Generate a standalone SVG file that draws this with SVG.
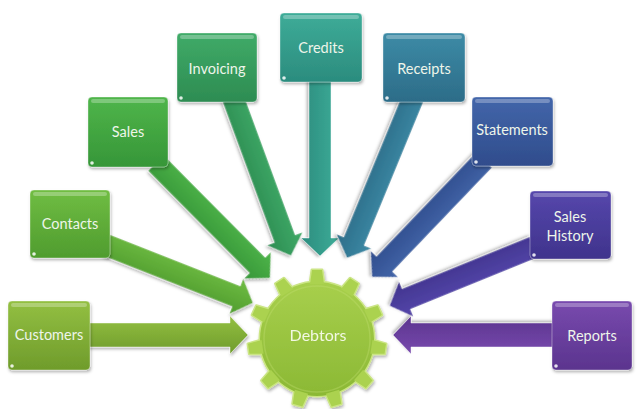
<svg xmlns="http://www.w3.org/2000/svg" xmlns:xlink="http://www.w3.org/1999/xlink" width="640" height="409" viewBox="0 0 640 409">
<defs>
<linearGradient id="gCust" x1="0" y1="0" x2="0" y2="1"><stop offset="0" stop-color="#93bf42"/><stop offset="1" stop-color="#6f9c2b"/></linearGradient>
<linearGradient id="gCont" x1="0" y1="0" x2="0" y2="1"><stop offset="0" stop-color="#70bd43"/><stop offset="1" stop-color="#4f9c2e"/></linearGradient>
<linearGradient id="gSale" x1="0" y1="0" x2="0" y2="1"><stop offset="0" stop-color="#4fb54a"/><stop offset="1" stop-color="#369638"/></linearGradient>
<linearGradient id="gInv" x1="0" y1="0" x2="0" y2="1"><stop offset="0" stop-color="#40ab68"/><stop offset="1" stop-color="#2d8c52"/></linearGradient>
<linearGradient id="gCred" x1="0" y1="0" x2="0" y2="1"><stop offset="0" stop-color="#3eac98"/><stop offset="1" stop-color="#2b8c7e"/></linearGradient>
<linearGradient id="gRec" x1="0" y1="0" x2="0" y2="1"><stop offset="0" stop-color="#3d8ba6"/><stop offset="1" stop-color="#2c6c88"/></linearGradient>
<linearGradient id="gStat" x1="0" y1="0" x2="0" y2="1"><stop offset="0" stop-color="#4366aa"/><stop offset="1" stop-color="#2f4c8c"/></linearGradient>
<linearGradient id="gHist" x1="0" y1="0" x2="0" y2="1"><stop offset="0" stop-color="#5647ac"/><stop offset="1" stop-color="#3f338c"/></linearGradient>
<linearGradient id="gRep" x1="0" y1="0" x2="0" y2="1"><stop offset="0" stop-color="#784aae"/><stop offset="1" stop-color="#5b348e"/></linearGradient>
<linearGradient id="gGear" gradientUnits="userSpaceOnUse" x1="0" y1="268" x2="0" y2="409"><stop offset="0" stop-color="#abd24f"/><stop offset="1" stop-color="#88b632"/></linearGradient>
<filter id="sh" x="-20%" y="-20%" width="140%" height="140%"><feDropShadow dx="1" dy="2" stdDeviation="1.5" flood-color="#000" flood-opacity="0.3"/></filter>
<polygon id="tooth" points="-7,-55 -5,-69 5,-69 7,-55"/>
</defs>
<style>
.box{stroke:#ffffff;stroke-opacity:0.35;stroke-width:1;filter:url(#sh)}
.hl{fill:#ffffff;fill-opacity:0.28}
.dot{fill:#ffffff;fill-opacity:0.85}
.arr{stroke:#ffffff;stroke-opacity:0.45;stroke-width:1;filter:url(#sh)}
.lbl{font-family:Lato,"Liberation Sans",sans-serif;font-size:14.5px;fill:#eef5ea;text-anchor:middle}
</style>

<g id="connectors">
<polygon class="arr" fill="url(#gCust)" transform="translate(86,335) rotate(0)" points="0,-12 144,-12 144,-19 162,0 144,19 144,12 0,12"/>
<polygon class="arr" fill="url(#gCont)" transform="translate(106,245) rotate(21.5)" points="0,-11 140,-11 140,-19 158,0 140,19 140,11 0,11"/>
<polygon class="arr" fill="url(#gSale)" transform="translate(156,163) rotate(45.25)" points="0,-11 144,-11 144,-19 162,0 144,19 144,11 0,11"/>
<polygon class="arr" fill="url(#gInv)" transform="translate(233,98) rotate(69.8)" points="0,-11 150,-11 150,-19 168,0 150,19 150,11 0,11"/>
<polygon class="arr" fill="url(#gCred)" transform="translate(320,78) rotate(90)" points="0,-11 160,-11 160,-19 178,0 160,19 160,11 0,11"/>
<polygon class="arr" fill="url(#gRec)" transform="translate(413,98) rotate(112.4)" points="0,-11 155,-11 155,-19 173,0 155,19 155,11 0,11"/>
<polygon class="arr" fill="url(#gStat)" transform="translate(484,160) rotate(133.75)" points="0,-11 144,-11 144,-19 162,0 144,19 144,11 0,11"/>
<polygon class="arr" fill="url(#gHist)" transform="translate(534,247) rotate(157.85)" points="0,-11 138,-11 138,-19 156,0 138,19 138,11 0,11"/>
<polygon class="arr" fill="url(#gRep)" transform="translate(556,335) rotate(180)" points="0,-12 145,-12 145,-19 163,0 145,19 145,12 0,12"/>
</g>

<g id="customers"><rect class="box" x="8" y="301" width="82" height="69" rx="4" fill="url(#gCust)"/><rect class="hl" x="11" y="303" width="76" height="4" rx="2"/><circle class="dot" cx="12" cy="366" r="1.8"/><text class="lbl" x="49" y="340">Customers</text></g>
<g id="contacts"><rect class="box" x="30" y="190" width="80" height="68" rx="4" fill="url(#gCont)"/><rect class="hl" x="33" y="192" width="74" height="4" rx="2"/><circle class="dot" cx="34" cy="254" r="1.8"/><text class="lbl" x="70" y="229">Contacts</text></g>
<g id="sales"><rect class="box" x="88" y="97" width="80" height="70" rx="4" fill="url(#gSale)"/><rect class="hl" x="91" y="99" width="74" height="4" rx="2"/><circle class="dot" cx="92" cy="163" r="1.8"/><text class="lbl" x="128" y="137">Sales</text></g>
<g id="invoicing"><rect class="box" x="177" y="33" width="80" height="69" rx="4" fill="url(#gInv)"/><rect class="hl" x="180" y="35" width="74" height="4" rx="2"/><circle class="dot" cx="181" cy="98" r="1.8"/><text class="lbl" x="217" y="74">Invoicing</text></g>
<g id="credits"><rect class="box" x="280" y="13" width="82" height="69" rx="4" fill="url(#gCred)"/><rect class="hl" x="283" y="15" width="76" height="4" rx="2"/><circle class="dot" cx="284" cy="78" r="1.8"/><text class="lbl" x="321" y="53">Credits</text></g>
<g id="receipts"><rect class="box" x="383" y="33" width="82" height="69" rx="4" fill="url(#gRec)"/><rect class="hl" x="386" y="35" width="76" height="4" rx="2"/><circle class="dot" cx="387" cy="98" r="1.8"/><text class="lbl" x="424" y="74">Receipts</text></g>
<g id="statements"><rect class="box" x="472" y="97" width="81" height="69" rx="4" fill="url(#gStat)"/><rect class="hl" x="475" y="99" width="75" height="4" rx="2"/><circle class="dot" cx="476" cy="162" r="1.8"/><text class="lbl" x="512" y="135">Statements</text></g>
<g id="sales-history"><rect class="box" x="530" y="191" width="81" height="68" rx="4" fill="url(#gHist)"/><rect class="hl" x="533" y="193" width="75" height="4" rx="2"/><circle class="dot" cx="534" cy="255" r="1.8"/><text class="lbl" x="570" y="222">Sales</text><text class="lbl" x="570" y="241">History</text></g>
<g id="reports"><rect class="box" x="552" y="301" width="80" height="69" rx="4" fill="url(#gRep)"/><rect class="hl" x="555" y="303" width="74" height="4" rx="2"/><circle class="dot" cx="556" cy="366" r="1.8"/><text class="lbl" x="592" y="341">Reports</text></g>

<g id="debtors" filter="url(#sh)">
<g fill="#cbe585" stroke="#cbe585" stroke-width="3" stroke-linejoin="round">
<circle cx="317" cy="339" r="57"/>
<use xlink:href="#tooth" transform="translate(317,339) rotate(0)"/>
<use xlink:href="#tooth" transform="translate(317,339) rotate(32.727)"/>
<use xlink:href="#tooth" transform="translate(317,339) rotate(65.455)"/>
<use xlink:href="#tooth" transform="translate(317,339) rotate(98.182)"/>
<use xlink:href="#tooth" transform="translate(317,339) rotate(130.909)"/>
<use xlink:href="#tooth" transform="translate(317,339) rotate(163.636)"/>
<use xlink:href="#tooth" transform="translate(317,339) rotate(196.364)"/>
<use xlink:href="#tooth" transform="translate(317,339) rotate(229.091)"/>
<use xlink:href="#tooth" transform="translate(317,339) rotate(261.818)"/>
<use xlink:href="#tooth" transform="translate(317,339) rotate(294.545)"/>
<use xlink:href="#tooth" transform="translate(317,339) rotate(327.273)"/>
</g>
<g fill="url(#gGear)">
<circle cx="317" cy="339" r="57"/>
<use xlink:href="#tooth" transform="translate(317,339) rotate(0)"/>
<use xlink:href="#tooth" transform="translate(317,339) rotate(32.727)"/>
<use xlink:href="#tooth" transform="translate(317,339) rotate(65.455)"/>
<use xlink:href="#tooth" transform="translate(317,339) rotate(98.182)"/>
<use xlink:href="#tooth" transform="translate(317,339) rotate(130.909)"/>
<use xlink:href="#tooth" transform="translate(317,339) rotate(163.636)"/>
<use xlink:href="#tooth" transform="translate(317,339) rotate(196.364)"/>
<use xlink:href="#tooth" transform="translate(317,339) rotate(229.091)"/>
<use xlink:href="#tooth" transform="translate(317,339) rotate(261.818)"/>
<use xlink:href="#tooth" transform="translate(317,339) rotate(294.545)"/>
<use xlink:href="#tooth" transform="translate(317,339) rotate(327.273)"/>
</g>
<circle cx="317" cy="339" r="53" fill="none" stroke="#c4e073" stroke-opacity="0.35" stroke-width="1.5"/>
<text class="lbl" x="318" y="341" style="font-size:16px;fill:#f2f8e2">Debtors</text>
</g>
</svg>
